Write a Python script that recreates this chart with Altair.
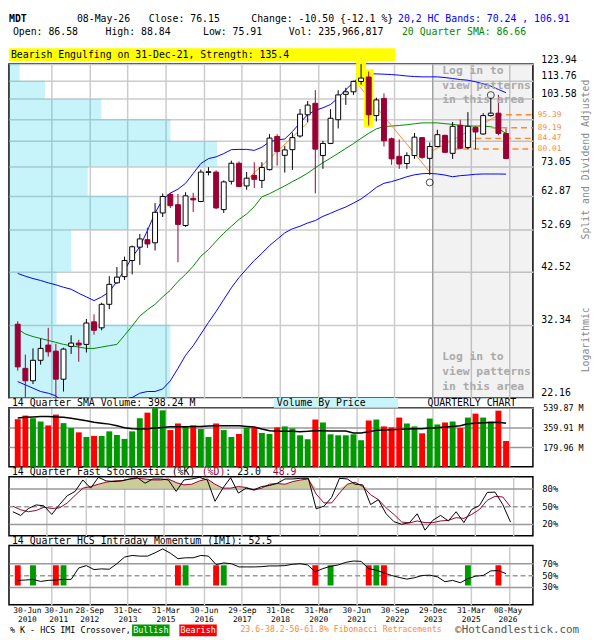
import altair as alt
import pandas as pd

FONT = "DejaVu Sans Mono"
MAROON = "#990033"
ORANGE = "#ff8833"
BLUE = "#0000ff"
GREEN_TXT = "#008800"

# ---------------- data (quarter index 0 = Jun-2010 ... 64 = May-2026) ----------------
opens = [32.4, 25.8, 24.2, 26.9, 29.1, 28.2, 24.4, 28.9, 29.4, 29.2, 32.8, 31.8, 35.9, 40.1, 41.4, 45.0,
         48.2, 50.1, 49.3, 57.5, 63.3, 60.0, 53.9, 62.0, 61.0, 70.9, 71.0, 58.5, 67.7, 74.3, 66.1, 69.8,
         68.0, 71.9, 85.3, 77.4, 79.7, 85.5, 95.4, 101.2, 77.3, 82.3, 93.0, 106.0, 107.4, 113.3, 115.9, 95.0,
         103.8, 84.3, 77.0, 74.2, 77.3, 84.8, 76.2, 81.0, 85.8, 78.2, 90.4, 80.6, 89.4, 86.4, 95.0, 96.2, 86.58]
highs = [32.9, 27.7, 28.6, 30.1, 31.8, 29.3, 28.7, 30.6, 29.9, 33.3, 34.1, 36.2, 41.5, 43.5, 45.9, 48.6,
         51.6, 53.3, 60.5, 63.6, 63.8, 63.4, 64.0, 63.8, 71.9, 72.8, 71.6, 68.0, 75.3, 75.0, 71.0, 74.7,
         74.7, 86.3, 86.3, 81.3, 87.0, 98.3, 102.4, 108.3, 83.4, 98.2, 108.3, 109.6, 113.8, 123.9, 119.2, 104.2,
         106.5, 84.8, 84.0, 78.6, 86.8, 85.0, 82.7, 88.3, 86.1, 91.9, 93.0, 96.7, 89.9, 96.2, 104.2, 105.7, 88.84]
lows = [25.5, 22.2, 23.8, 26.3, 27.4, 22.2, 22.9, 27.8, 26.7, 28.0, 30.7, 31.4, 35.0, 39.9, 40.7, 41.9,
        44.0, 48.0, 47.4, 56.3, 59.0, 44.6, 53.5, 57.8, 60.8, 69.8, 58.7, 57.5, 66.6, 65.7, 64.8, 65.4,
        65.4, 71.6, 73.4, 70.8, 71.8, 84.8, 91.7, 63.6, 72.2, 82.0, 88.9, 100.4, 105.7, 111.4, 90.3, 92.2,
        81.0, 73.7, 72.2, 72.2, 76.0, 76.0, 70.0, 80.7, 78.3, 76.0, 79.9, 79.9, 79.9, 86.1, 94.5, 85.8, 75.91]
closes = [26.0, 24.2, 26.9, 28.6, 28.1, 24.4, 28.5, 29.4, 29.1, 32.6, 31.4, 35.9, 39.8, 41.3, 45.0, 48.3,
          50.3, 49.0, 57.7, 62.6, 59.7, 54.2, 62.8, 61.5, 71.0, 71.1, 59.0, 67.5, 74.3, 65.9, 68.8, 68.4,
          72.7, 84.6, 78.9, 79.6, 84.8, 95.7, 100.3, 79.9, 82.3, 93.7, 105.7, 107.4, 113.3, 115.3, 95.4, 103.0,
          83.4, 76.0, 74.0, 77.3, 85.0, 76.6, 81.0, 86.1, 78.6, 89.9, 80.3, 89.9, 87.3, 95.0, 96.2, 86.65, 76.15]
upper_band = [42.1, 41.5, 41.0, 40.6, 40.1, 39.7, 39.2, 38.8, 38.0, 37.3, 36.6, 37.3, 38.3, 40.4, 42.8, 45.8,
              48.3, 52.5, 57.5, 61.6, 63.7, 65.0, 67.0, 70.5, 74.2, 76.1, 76.8, 78.1, 79.7, 79.8, 79.8, 79.4,
              80.7, 83.0, 83.8, 84.2, 87.5, 91.5, 95.5, 97.6, 98.9, 100.6, 104.1, 108.6, 112.7, 117.4, 117.8, 117.8,
              117.6, 117.4, 117.0, 116.5, 116.2, 116.0, 116.0, 116.0, 115.6, 115.0, 114.4, 114.0, 113.1, 111.9, 110.6, 108.7, 106.91]
lower_band = [24.1, 23.7, 23.3, 22.9, 22.7, 22.4, 21.6, 21.3, 21.3, 21.3, 21.5, 21.6, 21.6, 21.8, 22.0, 22.2,
              22.7, 22.9, 22.9, 23.2, 24.2, 25.8, 27.6, 29.0, 30.8, 32.7, 34.6, 36.8, 39.1, 41.2, 43.1, 45.0,
              46.7, 48.6, 50.2, 51.9, 53.0, 53.7, 54.6, 55.3, 56.5, 57.4, 58.4, 59.3, 60.5, 61.8, 63.6, 65.6,
              67.0, 67.6, 68.4, 69.3, 70.0, 70.4, 70.5, 70.3, 69.9, 69.3, 69.7, 69.9, 70.2, 70.3, 70.3, 70.3, 70.24]
sma20 = [31.6, 30.8, 30.4, 30.1, 29.8, 29.5, 29.2, 29.0, 28.8, 28.6, 28.6, 28.8, 29.0, 29.2, 30.6, 32.1,
         33.8, 34.9, 35.9, 37.3, 38.6, 40.4, 41.9, 43.7, 46.0, 47.6, 49.7, 51.8, 53.7, 55.6, 57.2, 59.4,
         62.5, 63.5, 64.8, 66.1, 67.6, 69.0, 70.6, 72.6, 74.5, 76.3, 78.2, 80.2, 82.2, 84.5, 86.7, 88.7,
         89.8, 90.0, 90.3, 90.6, 91.1, 91.5, 91.5, 91.5, 91.1, 90.8, 90.3, 90.0, 90.0, 90.0, 89.7, 88.8, 86.66]
volume_m = [435, 468, 444, 414, 378, 477, 399, 354, 315, 273, 282, 282, 324, 291, 255, 324,
            444, 495, 537, 516, 336, 396, 369, 378, 345, 273, 396, 336, 273, 300, 357, 357,
            309, 300, 360, 369, 351, 288, 252, 432, 405, 297, 288, 288, 297, 243, 423, 432,
            369, 360, 450, 396, 369, 306, 441, 387, 405, 414, 354, 450, 486, 450, 414, 513, 236]
vol_sma14 = [447, 453, 456, 459, 459, 456, 453, 444, 432, 420, 408, 399, 390, 375, 357, 348,
             345, 348, 354, 360, 366, 366, 366, 369, 369, 372, 375, 375, 375, 375, 369, 363,
             345, 330, 324, 324, 324, 321, 324, 330, 330, 327, 327, 327, 309, 309, 321, 333,
             336, 339, 342, 345, 348, 348, 354, 357, 363, 369, 375, 393, 399, 402, 405, 408, 398.24]
stoch_k = [40.6, 34.4, 46.1, 52.2, 50.6, 36.1, 52.8, 67.8, 75.0, 94.4, 80.6, 98.9, 92.8, 91.7, 92.8, 96.1,
           98.3, 88.9, 96.1, 96.1, 94.4, 75.0, 94.4, 96.1, 98.9, 94.4, 58.3, 80.6, 98.3, 72.2, 80.6, 77.8,
           83.3, 85.0, 88.9, 96.1, 96.1, 97.2, 97.2, 45.6, 50.0, 65.0, 97.2, 96.1, 87.2, 86.1, 52.8, 61.1,
           37.2, 23.9, 19.4, 22.2, 37.2, 9.4, 26.1, 34.4, 25.0, 40.6, 22.2, 44.4, 51.1, 73.3, 73.9, 52.8, 23.0]
stoch_d = [50.0, 43.9, 40.6, 42.8, 48.3, 46.1, 47.2, 55.6, 68.3, 80.6, 83.3, 87.2, 90.6, 92.8, 93.3, 95.6,
           97.2, 96.1, 94.4, 94.4, 96.1, 90.0, 86.1, 87.2, 92.8, 96.1, 87.2, 80.6, 80.6, 83.3, 81.7, 77.2,
           80.6, 87.2, 88.3, 87.2, 91.7, 94.4, 96.1, 70.6, 55.6, 55.6, 72.2, 87.2, 90.6, 83.3, 69.4, 61.1,
           47.2, 36.1, 23.3, 21.7, 25.0, 22.2, 22.2, 25.0, 26.1, 30.6, 29.4, 36.1, 44.4, 60.0, 66.7, 65.6, 48.9]
imi = [41.1, 41.7, 42.8, 39.4, 41.1, 41.7, 42.8, 42.8, 62.2, 66.1, 59.4, 60.6, 60.0, 69.4, 80.6, 83.3,
       82.2, 82.2, 87.8, 94.4, 87.2, 77.8, 79.4, 79.4, 83.3, 82.2, 67.8, 70.6, 69.4, 63.9, 63.9, 63.9,
       64.4, 65.6, 65.6, 66.1, 68.3, 69.4, 67.2, 55.6, 61.1, 65.0, 67.2, 71.7, 73.9, 73.3, 61.1, 58.3,
       53.9, 49.4, 46.1, 43.3, 45.6, 49.4, 50.0, 47.2, 38.9, 41.1, 37.2, 43.9, 48.3, 49.4, 57.2, 57.8, 52.5]

signal_idx = [0, 2, 5, 6, 21, 22, 26, 27, 39, 41, 46, 47, 48, 59, 63]
signal_kind = ["Bearish", "Bullish", "Bearish", "Bullish", "Bearish", "Bullish", "Bearish", "Bullish",
               "Bearish", "Bullish", "Bearish", "Bullish", "Bearish", "Bullish", "Bearish"]

price_grid = [22.16, 32.34, 42.52, 52.69, 62.87, 73.05, 83.23, 93.40, 103.58, 113.76, 123.94]
vbp_volume = [166, 49, 64, 123, 81, 214, 166, 95, 37, 11]   # volume-by-price bar lengths, bottom bin first

highlight_idx = [45, 46]
circle_idx = [54, 62]
circle_price = [67.3, 105.6]

fib_seg = [0, 0, 1, 1, 2, 2]
fib_i = [29, 38, 44.6, 54, 54, 63.2]
fib_p = [65.7, 91.5, 111.4, 71.0, 78.6, 95.6]
fib_levels = [95.39, 89.19, 84.47, 80.01]
fib_start = [62.7, 62.1, 60.0, 57.1]

shade_from = 54.375
grid_pos = [4.375 + 5 * k for k in range(13)]
tick_pos = [1.2, 5.3, 9.375, 14.375, 19.375, 24.375, 29.375, 34.375, 39.375, 44.375, 49.375, 54.375, 59.375, 64.2]
tick_labels = ["30-Jun 2010", "30-Jun 2011", "28-Sep 2012", "31-Dec 2013", "31-Mar 2015", "30-Jun 2016",
               "29-Sep 2017", "31-Dec 2018", "31-Mar 2020", "30-Jun 2021", "30-Sep 2022", "29-Dec 2023",
               "31-Mar 2025", "08-May 2026"]

# ---------------- layout ----------------
W = 532
HM = 339
HS = 60

df = pd.DataFrame(dict(i=list(range(len(opens))), open=opens, high=highs, low=lows, close=closes,
                       upper=upper_band, lower=lower_band, sma=sma20, vol=volume_m, volsma=vol_sma14,
                       k=stoch_k, d=stoch_d, imi=imi))
df["up"] = df["close"] >= df["open"]
base = alt.Chart(df)

XS = alt.Scale(domain=[-0.5, 66.875], nice=False, zero=False)
grid_axis = alt.Axis(values=grid_pos, grid=True, gridColor="#cccccc", gridWidth=1.5, labels=False,
                     ticks=False, domain=False, title=None)


def X(field="i"):
    return alt.X(f"{field}:Q", scale=XS, axis=grid_axis)


def txt(s, x, y, size=10, color="black", weight="normal", align="left", baseline="middle", angle=0):
    return alt.Chart(pd.DataFrame({"t": [s]})).mark_text(
        align=align, baseline=baseline, fontSize=size, font=FONT, color=color,
        fontWeight=weight, angle=angle).encode(x=alt.value(x), y=alt.value(y), text="t:N")


def box(x1, x2, y1, y2, color):
    return alt.Chart(pd.DataFrame({"a": [0]})).mark_rect(color=color).encode(
        x=alt.value(x1), x2=alt.value(x2), y=alt.value(y1), y2=alt.value(y2))


# ---------------- main price panel ----------------
YM = alt.Scale(type="log", domain=[22.16, 123.94], nice=False, zero=False)
ym_axis = alt.Axis(orient="right", values=price_grid, grid=True, gridColor="#cccccc", gridWidth=1.5,
                   ticks=False, domain=False, title=None,
                   labelExpr="(datum.value > 80 && datum.value < 95) ? '' : format(datum.value, '.2f')",
                   labelBaseline="bottom", labelFont=FONT, labelFontSize=10, labelPadding=8,
                   labelOverlap=False, labelFlush=False, labelColor="black")


def YMe(field):
    return alt.Y(f"{field}:Q", scale=YM, axis=ym_axis)


vbp_df = pd.DataFrame({"lo": price_grid[:-1], "hi": price_grid[1:], "v": vbp_volume})
vbp = alt.Chart(vbp_df).mark_rect(color="#00c8e6", opacity=0.22).encode(
    x=alt.X("v:Q", scale=alt.Scale(domain=[0, 539], nice=False, zero=True), axis=None),
    x2=alt.datum(0), y=YMe("lo"), y2="hi:Q")

sdf = pd.DataFrame({"s": [shade_from]})
shade = alt.Chart(sdf).mark_rect(color="black", opacity=0.05).encode(
    x=X("s"), x2=alt.value(W), y=alt.value(0), y2=alt.value(HM))
shade_edge = alt.Chart(sdf).mark_rule(color="#999999", strokeWidth=1).encode(
    x=X("s"), y=alt.value(0), y2=alt.value(HM))

upper_l = base.mark_line(color=BLUE, strokeWidth=1, clip=True).encode(x=X(), y=YMe("upper"))
lower_l = base.mark_line(color=BLUE, strokeWidth=1, clip=True).encode(x=X(), y=YMe("lower"))
sma_l = base.mark_line(color="#008800", strokeWidth=1, clip=True).encode(x=X(), y=YMe("sma"))

fdf = pd.DataFrame({"seg": fib_seg, "i": fib_i, "p": fib_p})
fib_diag = alt.Chart(fdf).mark_line(color=ORANGE, strokeWidth=1).encode(x=X(), y=YMe("p"), detail="seg:N")
ldf = pd.DataFrame({"level": fib_levels, "start": fib_start})
fib_rules = alt.Chart(ldf).mark_rule(color=ORANGE, strokeWidth=1.5, strokeDash=[6, 4]).encode(
    x=X("start"), x2=alt.value(W), y=YMe("level"))
fib_labels = alt.Chart(ldf).mark_text(align="left", baseline="middle", fontSize=8, font=FONT, color=ORANGE).encode(
    x=alt.value(W + 5), y=YMe("level"), text=alt.Text("level:Q", format=".2f"))

hl = base.transform_filter(alt.FieldOneOfPredicate(field="i", oneOf=highlight_idx)).transform_calculate(
    hlo="datum.low * 0.99", hhi="datum.high * 1.012").mark_bar(size=10, color="#ffff00", orient="vertical").encode(
    x=X(), y=YMe("hlo"), y2="hhi:Q")

wicks = base.mark_rule(strokeWidth=1).encode(
    x=X(), y=YMe("low"), y2="high:Q",
    color=alt.condition("datum.up", alt.value("black"), alt.value(MAROON)))
bodies = base.mark_bar(size=5, orient="vertical", strokeWidth=1).encode(
    x=X(), y=YMe("open"), y2="close:Q",
    fill=alt.condition("datum.up", alt.value("white"), alt.value(MAROON)),
    stroke=alt.condition("datum.up", alt.value("black"), alt.value(MAROON)))

cdf = pd.DataFrame({"i": circle_idx, "p": circle_price})
circles = alt.Chart(cdf).mark_point(shape="circle", size=50, filled=False, color="black", strokeWidth=1).encode(
    x=X(), y=YMe("p"))

LOGIN = "#aaaaaa"
L1, L2 = -46, -32
main_texts = [
    txt("MDT", 0, L1, weight="bold"),
    txt("08-May-26", 69, L1),
    txt("Close: 76.15", 142, L1),
    txt("Change: -10.50 {-12.1 %}", 246, L1),
    txt("20,2 HC Bands: 70.24 , 106.91", 395, L1, color=BLUE),
    txt("Open: 86.58", 4, L2),
    txt("High: 88.84", 98, L2),
    txt("Low: 75.91", 197, L2),
    txt("Vol: 235,966,817", 284, L2),
    txt("20 Quarter SMA: 86.66", 399, L2, color=GREEN_TXT),
    box(0, 392, -16, -3, "#ffff00"),
    txt("Bearish Engulfing on 31-Dec-21, Strength: 135.4", 2, -9.5),
    txt("Log in to", 440, 7, size=11.5, color=LOGIN, weight="bold"),
    txt("view patterns", 440, 22, size=11.5, color=LOGIN, weight="bold"),
    txt("in this area", 440, 37, size=11.5, color=LOGIN, weight="bold"),
    txt("Log in to", 440, 298, size=11.5, color=LOGIN, weight="bold"),
    txt("view patterns", 440, 313, size=11.5, color=LOGIN, weight="bold"),
    txt("in this area", 440, 328, size=11.5, color=LOGIN, weight="bold"),
    txt("Split and Dividend Adjusted", W + 54, 97, color="#888888", align="center", angle=270),
    txt("Logarithmic", W + 54, 280, color="#888888", align="center", angle=270),
]

rest = alt.layer(shade, shade_edge, upper_l, lower_l, sma_l, fib_diag, fib_rules, hl, wicks, bodies,
                 circles, fib_labels, *main_texts)
main = alt.layer(vbp, rest).resolve_scale(x="independent").properties(width=W, height=HM)

# ---------------- volume panel ----------------
VS = alt.Scale(domain=[0, 539.87], nice=False, zero=True)
v_axis = alt.Axis(orient="right", values=[179.96, 359.91, 539.87], grid=True, gridColor="#999999",
                  gridWidth=1.5, ticks=False, domain=False, title=None,
                  labelExpr="format(datum.value, '.2f') + ' M'", labelFont=FONT, labelFontSize=8.5,
                  labelPadding=10, labelOverlap=False, labelFlush=False, labelColor="black")
vbars = base.mark_bar(size=6).encode(
    x=X(), y=alt.Y("vol:Q", scale=VS, axis=v_axis),
    color=alt.condition("datum.up", alt.value("#009900"), alt.value("#ff0000")))
vsma = base.mark_line(color="black", strokeWidth=1.5).encode(x=X(), y=alt.Y("volsma:Q", scale=VS, axis=v_axis))
vol_texts = [
    txt("14 Quarter SMA Volume: 398.24 M", 3, -5),
    box(269, 395, -10, 0, "#c8f4fa"),
    txt("Volume By Price", 272, -5),
    txt("QUARTERLY CHART", 425, -5),
]
vol = alt.layer(vbars, vsma, *vol_texts).properties(width=W, height=HS)

# ---------------- stochastic panel ----------------
PS = alt.Scale(domain=[0, 100], nice=False, zero=True)


def pct_axis(vals):
    return alt.Axis(orient="right", values=vals, grid=True, gridColor="#999999", gridWidth=1.5,
                    gridDash={"condition": {"test": "datum.value == 50", "value": [5, 3]}, "value": []},
                    ticks=False, domain=False, title=None, labelExpr="datum.value + '%'",
                    labelFont=FONT, labelFontSize=9, labelPadding=9, labelOverlap=False,
                    labelFlush=False, labelColor="black")


s_axis = pct_axis([20, 50, 80])
s_area = base.transform_calculate(top="max(datum.d, 80)", b80="80").mark_area(color="#cccc99").encode(
    x=X(), y=alt.Y("top:Q", scale=PS, axis=s_axis), y2="b80:Q")
k_line = base.mark_line(color="black", strokeWidth=1).encode(x=X(), y=alt.Y("k:Q", scale=PS, axis=s_axis))
d_line = base.mark_line(color=MAROON, strokeWidth=1).encode(x=X(), y=alt.Y("d:Q", scale=PS, axis=s_axis))
cw = 6.02
st_texts = [
    txt("14 Quarter Fast Stochastic (%K)", 3, -5),
    txt("(%D)", 3 + 32 * cw, -5, color=MAROON),
    txt(": 23.0", 3 + 36 * cw, -5),
    txt("48.9", 3 + 44 * cw, -5, color=MAROON),
]
stoch = alt.layer(s_area, d_line, k_line, *st_texts).properties(width=W, height=HS)

# ---------------- IMI panel ----------------
all_x_vals = sorted(set(grid_pos) | set(tick_pos))
lab_expr = " : ".join(
    f"datum.value == {p} ? ['{t.split(' ')[0]}', '{t.split(' ')[1]}']" for p, t in zip(tick_pos, tick_labels)
) + " : ''"
imi_x_axis = alt.Axis(values=all_x_vals, grid=True, gridColor="#cccccc", gridWidth=1.5,
                      gridOpacity={"condition": {"test": f"indexof({grid_pos}, datum.value) < 0", "value": 0},
                                   "value": 1},
                      labelExpr=lab_expr, ticks=False, domain=False, title=None, labelFont=FONT,
                      labelFontSize=8, labelLineHeight=9, labelPadding=2, labelBaseline="top",
                      labelOverlap=False, labelFlush=False, labelColor="black")
XI = alt.X("i:Q", scale=XS, axis=imi_x_axis)
i_axis = pct_axis([30, 50, 70])
sigdf = pd.DataFrame({"i": signal_idx, "kind": signal_kind})
sig = alt.Chart(sigdf).mark_bar(size=6, orient="vertical").encode(
    x=XI, y=alt.Y(datum=32.5, scale=PS, axis=i_axis), y2=alt.datum(66.7),
    color=alt.Color("kind:N", scale=alt.Scale(domain=["Bearish", "Bullish"], range=["#ff0000", "#009900"]),
                    legend=None))
imi_line = base.mark_line(color="black", strokeWidth=1).encode(x=XI, y=alt.Y("imi:Q", scale=PS, axis=i_axis))
FY = HS + 26
imi_texts = [
    txt("14 Quarter HCS Intraday Momentum (IMI): 52.5", 3, -5),
    txt("% K - HCS IMI Crossover,", 1, FY, size=8.5),
    box(125, 163, FY - 6, FY + 6, "#009900"),
    txt("Bullish", 144, FY, size=8.5, color="white", align="center"),
    box(173, 211, FY - 6, FY + 6, "#ff0000"),
    txt("Bearish", 192, FY, size=8.5, color="white", align="center"),
    txt("23.6-38.2-50-61.8% Fibonacci Retracements", 235, FY, size=8.3, color=ORANGE),
    txt("\u00a9HotCandlestick.com", 453, FY, size=11, color="#555555"),
]
imi_chart = alt.layer(sig, imi_line, *imi_texts).properties(width=W, height=HS)

chart = alt.vconcat(main, vol, stoch, imi_chart, spacing=10, bounds="flush").properties(
    padding=0).configure_view(stroke="black", strokeWidth=1.5).configure_axis(labelFont=FONT)

chart.save("out.html", embed_options={"renderer": "svg", "actions": False})
